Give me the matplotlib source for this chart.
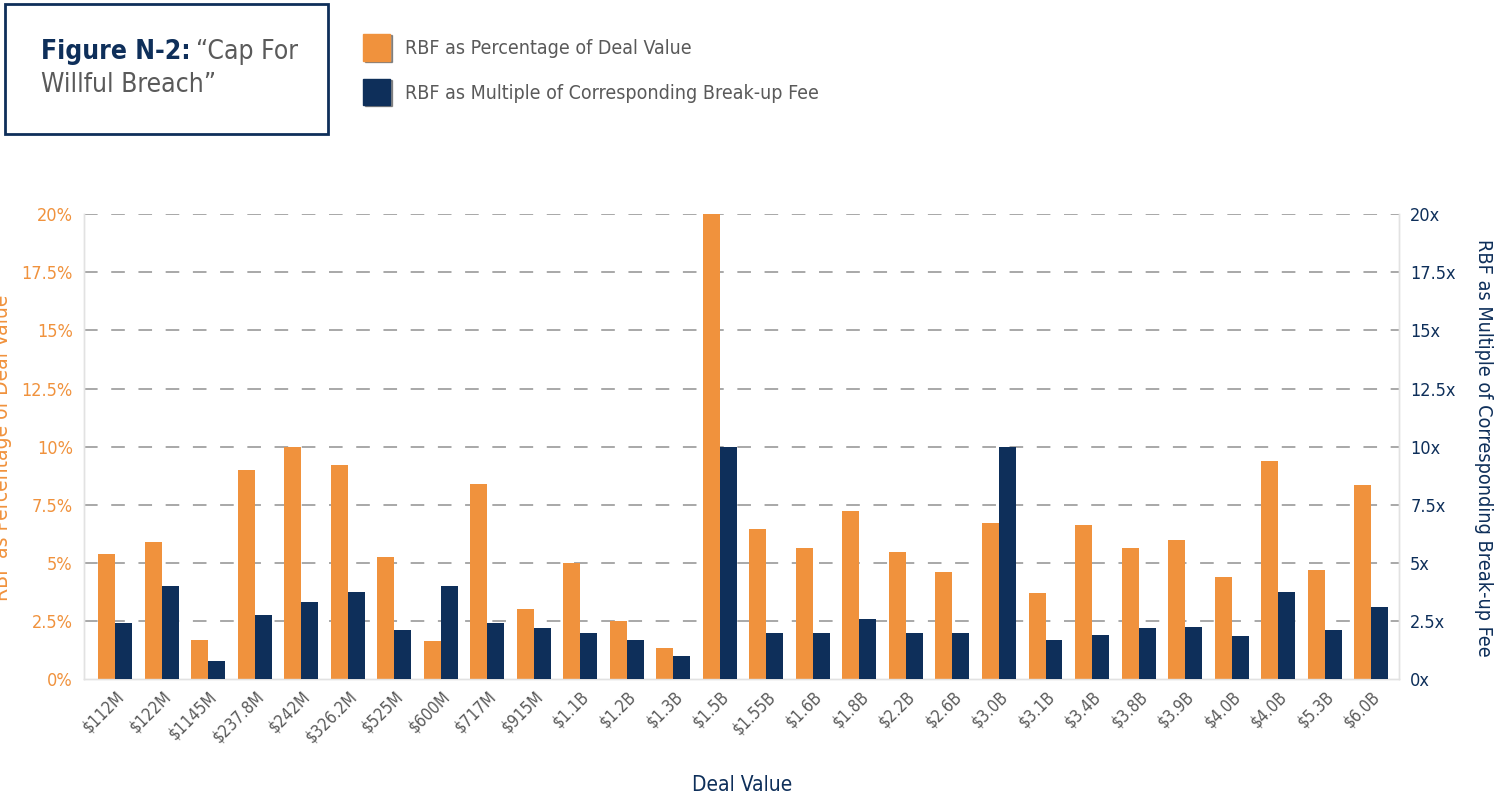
import numpy as np
import matplotlib
matplotlib.use("Agg")
import matplotlib.pyplot as plt
from matplotlib.patches import Rectangle

plt.rcParams['font.family'] = ['Liberation Sans Narrow', 'DejaVu Sans']
plt.rcParams['font.stretch'] = 'condensed'

# data
deals = ['$112M', '$122M', '$1145M', '$237.8M', '$242M', '$326.2M', '$525M', '$600M',
         '$717M', '$915M', '$1.1B', '$1.2B', '$1.3B', '$1.5B', '$1.55B', '$1.6B', '$1.8B',
         '$2.2B', '$2.6B', '$3.0B', '$3.1B', '$3.4B', '$3.8B', '$3.9B', '$4.0B', '$4.0B',
         '$5.3B', '$6.0B']
pct_of_deal = [5.4, 5.9, 1.7, 9.0, 10.0, 9.2, 5.25, 1.65, 8.4, 3.0, 5.0, 2.5, 1.35, 20.0,
               6.45, 5.65, 7.25, 5.45, 4.6, 6.7, 3.7, 6.65, 5.65, 6.0, 4.4, 9.4, 4.7, 8.35]
multiple_of_fee = [2.4, 4.0, 0.8, 2.75, 3.3, 3.75, 2.1, 4.0, 2.4, 2.2, 2.0, 1.7, 1.0, 10.0,
                   2.0, 2.0, 2.6, 2.0, 2.0, 10.0, 1.7, 1.9, 2.2, 2.25, 1.85, 3.75, 2.1, 3.1]
ticks = [0, 2.5, 5, 7.5, 10, 12.5, 15, 17.5, 20]

ORANGE = '#F0923D'
NAVY = '#0E2F5A'
GREY = '#5A5A5A'

fig = plt.figure(figsize=(15.05, 7.99), dpi=100)
ax = fig.add_axes([0.0558, 0.150, 0.8738, 0.582])
ax2 = ax.twinx()

x = np.arange(len(deals))
w = 0.365
ax.bar(x - w / 2, pct_of_deal, width=w, color=ORANGE, zorder=3)
ax2.bar(x + w / 2, multiple_of_fee, width=w, color=NAVY, zorder=3)

ax.set_xlim(-0.67, len(deals) - 1 + 0.6)
ax.set_ylim(0, 20)
ax2.set_ylim(0, 20)
ax.set_yticks(ticks)
ax2.set_yticks(ticks)
ax.set_yticklabels(['%g%%' % t for t in ticks], color=ORANGE, fontsize=13)
ax2.set_yticklabels(['%gx' % t for t in ticks], color=NAVY, fontsize=13)
ax.set_xticks(x)
ax.set_xticklabels(deals, rotation=45, ha='right', rotation_mode='anchor',
                   color=GREY, fontsize=12)

for t in ticks[1:]:
    ax.axhline(t, color='#A8A8A8', lw=1.4, linestyle=(0, (7, 7)), zorder=1)

for a in (ax, ax2):
    a.tick_params(length=0)
    a.spines['top'].set_visible(False)
    for s in ('left', 'right', 'bottom'):
        a.spines[s].set_color('#E2E2E2')
        a.spines[s].set_linewidth(1)
ax.tick_params(axis='y', pad=8)
ax2.tick_params(axis='y', pad=8)
ax.tick_params(axis='x', pad=6)

fig.text(0.493, 0.017, 'Deal Value', color=NAVY, fontsize=15, ha='center', va='center')
fig.text(0.001, 0.44, 'RBF as Percentage of Deal Value', rotation=90, color=ORANGE,
         fontsize=15, ha='center', va='center')
fig.text(0.986, 0.44, 'RBF as Multiple of Corresponding Break-up Fee', rotation=-90,
         color=NAVY, fontsize=14.2, ha='center', va='center')

# title box
fig.add_artist(Rectangle((0.003, 0.832), 0.215, 0.163, transform=fig.transFigure,
                         fill=False, edgecolor=NAVY, lw=2))
t1 = fig.text(0.027, 0.935, 'Figure N-2:', color=NAVY, fontsize=19, fontweight='bold',
              va='center')
fig.canvas.draw()
bb = t1.get_window_extent().transformed(fig.transFigure.inverted())
fig.text(bb.x1 + 0.004, 0.935, '\u201cCap For', color=GREY, fontsize=19, va='center')
fig.text(0.027, 0.893, 'Willful Breach\u201d', color=GREY, fontsize=19, va='center')

# legend
for yy, col, lab in [(0.939, ORANGE, 'RBF as Percentage of Deal Value'),
                     (0.883, NAVY, 'RBF as Multiple of Corresponding Break-up Fee')]:
    fig.add_artist(Rectangle((0.2428, yy - 0.016), 0.0175, 0.033, transform=fig.transFigure,
                             color='#333333', alpha=0.5))
    fig.add_artist(Rectangle((0.2415, yy - 0.015), 0.0175, 0.033, transform=fig.transFigure,
                             color=col))
    fig.text(0.269, yy, lab, color=GREY, fontsize=14, va='center')

fig.savefig('out.png', dpi=100)
